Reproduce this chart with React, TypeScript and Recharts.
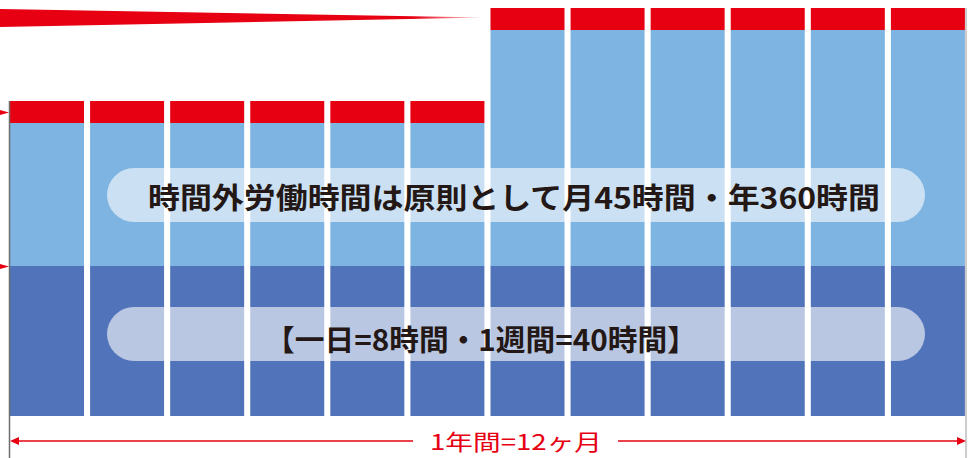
import React from "react";
import { BarChart, Bar, XAxis, YAxis } from "recharts";

const months = ["1月", "2月", "3月", "4月", "5月", "6月", "7月", "8月", "9月", "10月", "11月", "12月"];
const legalHours = [150, 150, 150, 150, 150, 150, 150, 150, 150, 150, 150, 150];
const overtimeHours = [143, 143, 143, 143, 143, 143, 236, 236, 236, 236, 236, 236];
const limitBand = [22, 22, 22, 22, 22, 22, 22, 22, 22, 22, 22, 22];

const data = months.map((m, i) => ({
  month: m,
  legal: legalHours[i],
  overtime: overtimeHours[i],
  limit: limitBand[i],
}));

const W = 970;
const H = 458;
const font = '"Noto Sans CJK JP", "Noto Sans", sans-serif';

const App: React.FC = () => {
  return (
    <div style={{ position: "absolute", left: 0, top: 0, width: W, height: H, background: "#fff" }}>
      <BarChart
        width={W}
        height={H}
        data={data}
        margin={{ top: 8, right: 2, bottom: 42, left: 7 }}
        barSize={74}
      >
        <XAxis dataKey="month" hide />
        <YAxis hide domain={[0, 408]} />
        <Bar dataKey="legal" stackId="a" fill="#5073b9" isAnimationActive={false} />
        <Bar dataKey="overtime" stackId="a" fill="#7db4e1" isAnimationActive={false} />
        <Bar dataKey="limit" stackId="a" fill="#e60012" isAnimationActive={false} />
      </BarChart>
      <svg
        width={W}
        height={H}
        style={{ position: "absolute", left: 0, top: 0, pointerEvents: "none" }}
      >
        <defs>
          <linearGradient id="wedge" x1="0" y1="0" x2="1" y2="0">
            <stop offset="0" stopColor="#e60012" stopOpacity={1} />
            <stop offset="0.85" stopColor="#e60012" stopOpacity={1} />
            <stop offset="1" stopColor="#e60012" stopOpacity={0.1} />
          </linearGradient>
        </defs>
        {/* tapering band at top */}
        <polygon points="0,9 0,27 486,17.5" fill="url(#wedge)" />

        {/* frame lines */}
        <line x1={9.5} y1={101} x2={9.5} y2={458} stroke="#6e6e6e" strokeWidth={1.5} />
        <line x1={966} y1={8} x2={966} y2={458} stroke="#9a9a9a" strokeWidth={1} />

        {/* small markers at left */}
        <polygon points="0,110 9,112.5 0,115" fill="#e60012" />
        <polygon points="0,264 9,266.5 0,269" fill="#e60012" />

        {/* labels */}
        <rect x={107} y={168} width={818} height={54} rx={27} fill="#fff" fillOpacity={0.6} />
        <text
          x={148}
          y={196}
          dominantBaseline="central"
          fontFamily={font}
          fontWeight={700}
          fontSize={29}
          fill="#231815"
          textLength={732}
          lengthAdjust="spacingAndGlyphs"
        >
          時間外労働時間は原則として月45時間・年360時間
        </text>
        <rect x={107} y={307} width={818} height={54} rx={27} fill="#fff" fillOpacity={0.6} />
        <text
          x={265}
          y={338}
          dominantBaseline="central"
          fontFamily={font}
          fontWeight={700}
          fontSize={29}
          fill="#231815"
          textLength={432}
          lengthAdjust="spacingAndGlyphs"
        >
          【一日=8時間・1週間=40時間】
        </text>

        {/* bottom arrow */}
        <line x1={14} y1={441} x2={413} y2={441} stroke="#e60012" strokeWidth={1.5} />
        <line x1={618} y1={441} x2={962} y2={441} stroke="#e60012" strokeWidth={1.5} />
        <polygon points="10,441 19,437 19,445" fill="#e60012" />
        <polygon points="966,441 957,437 957,445" fill="#e60012" />
        <text
          x={516}
          y={440}
          textAnchor="middle"
          dominantBaseline="central"
          fontFamily={font}
          fontWeight={400}
          fontSize={22}
          fill="#e60012"
          textLength={172}
          lengthAdjust="spacingAndGlyphs"
        >
          1年間=12ヶ月
        </text>
      </svg>
    </div>
  );
};

export default App;
